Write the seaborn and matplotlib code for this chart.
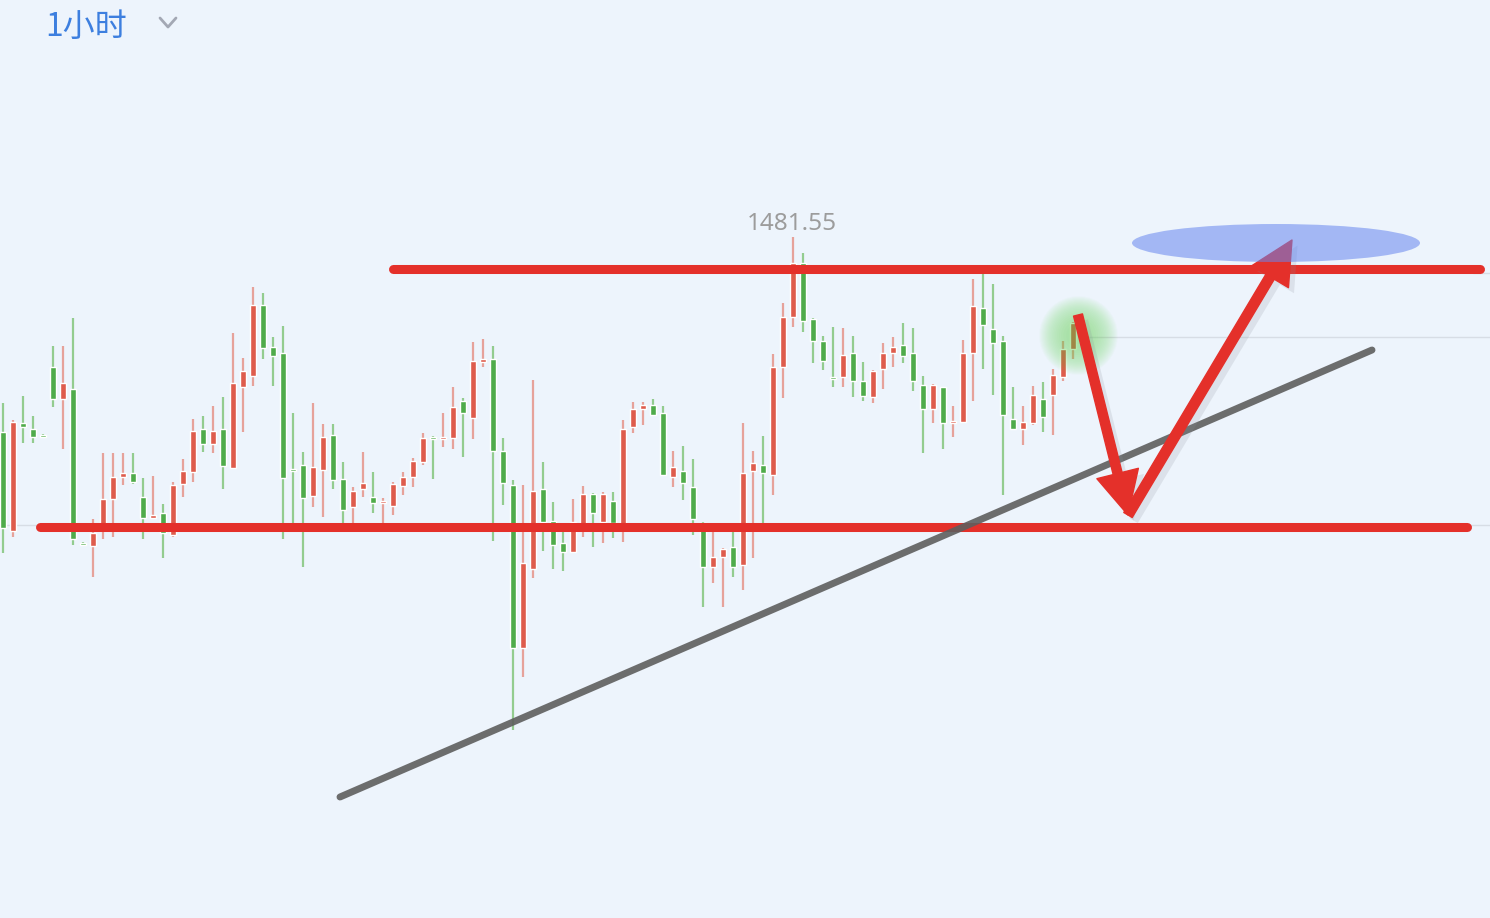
import numpy as np
import seaborn as sns
import matplotlib.pyplot as plt
from matplotlib.patches import Ellipse, FancyArrowPatch
import matplotlib.patheffects as pe

# hourly OHLC (red = up, green = down)
opens = [
    1471.80, 1466.85, 1472.25, 1471.95, 1471.65, 1475.05, 1473.45, 1473.95, 1466.25, 1466.10,
    1467.00, 1468.45, 1469.55, 1469.75, 1468.55, 1467.50, 1467.75, 1466.65, 1469.20, 1469.80,
    1471.95, 1471.20, 1471.95, 1470.00, 1474.05, 1474.60, 1478.15, 1476.05, 1475.75, 1469.95,
    1470.15, 1468.60, 1469.90, 1471.65, 1469.45, 1468.05, 1468.95, 1468.55, 1468.25, 1468.10,
    1469.10, 1469.55, 1470.30, 1471.55, 1471.45, 1471.50, 1473.35, 1472.50, 1475.30, 1475.45,
    1470.85, 1469.15, 1461.00, 1464.95, 1468.95, 1467.35, 1466.25, 1465.80, 1467.05, 1468.70,
    1467.30, 1468.35, 1467.05, 1472.05, 1472.95, 1473.15, 1472.75, 1469.55, 1469.85, 1469.05,
    1467.25, 1465.05, 1465.55, 1466.05, 1465.15, 1469.85, 1470.15, 1469.65, 1475.05, 1477.55,
    1480.25, 1477.45, 1476.35, 1474.55, 1474.55, 1475.75, 1474.35, 1473.55, 1474.95, 1475.75,
    1476.15, 1475.75, 1474.15, 1472.95, 1474.05, 1472.25, 1472.30, 1475.75, 1478.00, 1476.95,
    1476.35, 1472.45, 1471.95, 1472.25, 1473.45, 1473.65, 1474.55, 1475.95]
closes = [
    1467.00, 1472.30, 1472.05, 1471.55, 1471.55, 1473.45, 1474.25, 1466.45, 1466.15, 1466.75,
    1468.45, 1469.55, 1469.75, 1469.30, 1467.50, 1467.65, 1466.75, 1469.15, 1469.85, 1471.85,
    1471.20, 1471.85, 1470.10, 1474.25, 1474.85, 1478.15, 1476.00, 1475.60, 1469.50, 1469.85,
    1468.50, 1470.05, 1471.55, 1469.40, 1467.90, 1468.85, 1469.25, 1468.25, 1468.35, 1469.20,
    1469.55, 1470.35, 1471.50, 1471.45, 1471.55, 1473.05, 1472.75, 1475.35, 1475.45, 1470.85,
    1469.25, 1461.00, 1465.25, 1468.85, 1467.30, 1466.15, 1465.80, 1467.30, 1468.70, 1467.75,
    1468.70, 1467.25, 1471.95, 1472.95, 1473.15, 1472.65, 1469.65, 1470.05, 1469.25, 1467.45,
    1465.05, 1465.55, 1465.95, 1465.05, 1469.75, 1470.25, 1469.75, 1475.05, 1477.55, 1480.25,
    1477.35, 1476.35, 1475.35, 1474.45, 1475.65, 1474.35, 1473.60, 1474.85, 1475.75, 1476.05,
    1475.60, 1474.35, 1472.95, 1474.15, 1472.25, 1472.35, 1475.75, 1478.10, 1477.15, 1476.25,
    1472.65, 1471.95, 1472.30, 1473.65, 1472.55, 1474.65, 1475.95, 1477.25]
highs = [
    1473.25, 1472.40, 1473.60, 1472.60, 1471.70, 1476.10, 1476.10, 1477.50, 1466.30, 1467.45,
    1470.75, 1470.75, 1470.75, 1470.75, 1469.50, 1469.60, 1468.20, 1469.30, 1470.45, 1472.45,
    1472.60, 1473.10, 1473.55, 1476.75, 1475.50, 1479.05, 1478.75, 1476.55, 1477.10, 1472.75,
    1470.80, 1473.25, 1472.20, 1472.20, 1470.30, 1469.05, 1470.80, 1469.80, 1468.50, 1469.30,
    1469.80, 1470.50, 1471.75, 1471.60, 1472.75, 1474.05, 1473.50, 1476.30, 1476.45, 1476.10,
    1471.50, 1469.40, 1469.15, 1474.40, 1470.30, 1468.30, 1466.80, 1468.45, 1469.10, 1468.75,
    1468.80, 1468.80, 1472.40, 1473.30, 1473.30, 1473.45, 1473.10, 1470.85, 1471.10, 1470.45,
    1467.30, 1467.25, 1466.00, 1466.80, 1472.25, 1470.85, 1471.60, 1475.70, 1478.25, 1481.55,
    1480.75, 1477.50, 1476.60, 1477.05, 1477.00, 1476.60, 1475.30, 1474.90, 1476.25, 1476.55,
    1477.25, 1477.00, 1474.60, 1474.20, 1474.05, 1473.10, 1476.40, 1479.45, 1479.70, 1479.20,
    1476.60, 1474.05, 1473.10, 1474.10, 1474.30, 1474.95, 1476.35, 1477.30]
lows = [
    1465.75, 1466.55, 1471.25, 1471.25, 1471.50, 1473.05, 1470.95, 1466.15, 1466.10, 1464.55,
    1466.45, 1466.55, 1469.15, 1469.20, 1466.45, 1467.50, 1465.50, 1466.55, 1468.55, 1469.30,
    1470.80, 1470.75, 1468.95, 1470.00, 1471.80, 1474.10, 1475.45, 1474.10, 1466.45, 1467.05,
    1465.05, 1468.05, 1467.55, 1468.95, 1467.25, 1467.25, 1468.55, 1467.75, 1467.25, 1467.65,
    1468.65, 1469.05, 1470.15, 1469.45, 1471.05, 1470.95, 1470.55, 1471.45, 1475.05, 1466.35,
    1468.15, 1456.90, 1459.55, 1464.50, 1465.85, 1464.95, 1464.85, 1465.80, 1466.55, 1466.05,
    1466.25, 1466.50, 1466.30, 1471.75, 1472.15, 1472.60, 1469.65, 1469.05, 1468.40, 1466.65,
    1463.05, 1464.25, 1463.05, 1464.55, 1463.90, 1465.50, 1467.25, 1468.65, 1473.50, 1477.05,
    1476.80, 1475.25, 1474.90, 1474.05, 1474.05, 1473.55, 1473.35, 1473.25, 1473.95, 1475.05,
    1475.25, 1473.85, 1470.75, 1472.25, 1470.95, 1471.55, 1472.25, 1473.35, 1474.95, 1473.65,
    1468.65, 1471.95, 1471.15, 1472.15, 1471.80, 1471.65, 1474.35, 1475.45]

high_label = "1481.55"
timeframe = "1小时"

# hand-drawn analysis marks (bar index, price)
resistance = 1479.95
support = 1467.05
resistance_span = [39, 147.7]
support_span = [3.7, 146.4]
trend_x = [33.7, 136.9]
trend_y = [1453.55, 1475.90]
down_arrow = [(107.5, 1477.65), (112.5, 1467.65)]
up_arrow = [(112.5, 1467.65), (128.9, 1481.40)]
target_zone = (127.3, 1481.25)
price_lines = [1476.55, 1467.15, 1479.75]

BG = "#edf4fc"
UP, DOWN = "#de5c4c", "#4fab4a"
UP_WICK, DOWN_WICK = "#e6a29a", "#93cc8f"
LINE_RED = "#e4302a"

sns.set_theme(style="white")
plt.rcParams["font.family"] = ["Noto Sans CJK SC", "DejaVu Sans"]

fig = plt.figure(figsize=(14.9, 9.18), dpi=100)
fig.patch.set_facecolor(BG)
ax = fig.add_axes([0, 0, 1, 1])
ax.set_facecolor(BG)
ax.set_xlim(-0.3, 148.7)
ax.set_ylim(1447.50, 1493.40)
ax.axis("off")

o, c = np.array(opens), np.array(closes)
h, l = np.array(highs), np.array(lows)
x = np.arange(len(o))
up = c >= o

# faint price reference lines
for lvl, x0 in zip(price_lines, [108, 0, 147]):
    ax.plot([x0, 149], [lvl, lvl], color="#c9ced6", lw=1, alpha=0.6, zorder=1)

ax.vlines(x, l, h, colors=np.where(up, UP_WICK, DOWN_WICK), lw=1.6, zorder=2)
ax.bar(x, np.maximum(np.abs(c - o), 0.1), bottom=np.minimum(o, c), width=0.6,
       color=np.where(up, UP, DOWN), zorder=3)

# soft glow on the last candle
for s in np.linspace(3200, 150, 20):
    ax.scatter([x[-1] + 0.5], [1476.65], s=s, color="#5ad545", alpha=0.026,
               lw=0, zorder=4)

ax.text(x[int(np.argmax(h))] - 0.1, h.max() + 0.05, high_label, ha="center", va="bottom",
        fontsize=17.5, color="#9c9c9c", family=["Noto Sans", "DejaVu Sans"])

# support / resistance and trendline
ax.plot(resistance_span, [resistance] * 2, color=LINE_RED, lw=6.5,
        solid_capstyle="round", zorder=6)
ax.plot(support_span, [support] * 2, color=LINE_RED, lw=6.5,
        solid_capstyle="round", zorder=6)
sns.lineplot(x=trend_x, y=trend_y, ax=ax, color="#5e5e5e", lw=5, alpha=0.9,
             solid_capstyle="round", zorder=6)

shadow = [pe.SimplePatchShadow(offset=(4, -4), shadow_rgbFace="#8a9099", alpha=0.18),
          pe.Normal()]
for (p0, p1), tw in [(down_arrow, 0.3), (up_arrow, 0.32)]:
    arr = FancyArrowPatch(p0, p1, shrinkA=0, shrinkB=0, mutation_scale=22,
                          arrowstyle=f"simple,head_length=1.4,head_width=1.4,tail_width={tw}",
                          color=LINE_RED, zorder=7)
    arr.set_path_effects(shadow)
    ax.add_patch(arr)

ax.add_patch(Ellipse(target_zone, width=28.8, height=1.9, color="#6686ef",
                     alpha=0.55, lw=0, zorder=8))

fig.text(45 / 1490, 1 - 27 / 918, timeframe, ha="left", va="center",
         fontsize=23, color="#3d7fdf")
fig.add_artist(plt.Line2D([160 / 1490, 168 / 1490, 176 / 1490],
                          [1 - 18 / 918, 1 - 27 / 918, 1 - 18 / 918],
                          color="#a3a8b4", lw=2, transform=fig.transFigure))

fig.savefig("out.png", dpi=100, facecolor=BG)
